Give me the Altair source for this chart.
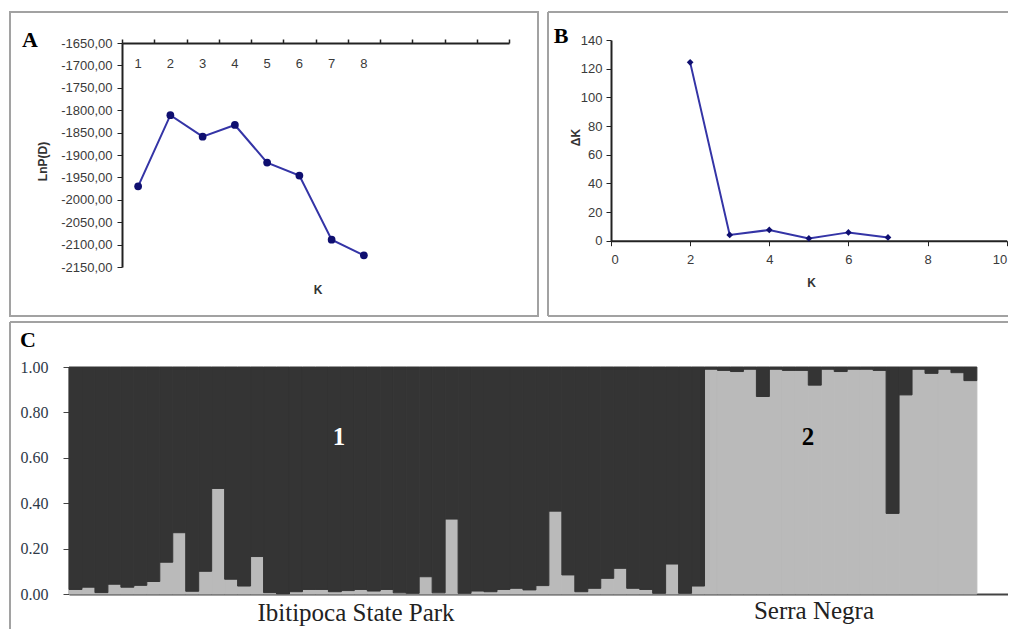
import altair as alt
import pandas as pd

# ---------------- data ----------------
# Panel A: mean LnP(D) for each K
k_a = [1, 2, 3, 4, 5, 6, 7, 8]
lnp_d = [-1970, -1811, -1859, -1833, -1917, -1946, -2089, -2124]
a_cat_bounds = [0.5, 1.5, 2.5, 3.5, 4.5, 5.5, 6.5, 7.5, 8.5, 9.5, 10.5, 11.5, 12.5]
a_y_ticks = [-2150, -2100, -2050, -2000, -1950, -1900, -1850, -1800, -1750, -1700, -1650]

# Panel B: Delta K for each K
k_b = [2, 3, 4, 5, 6, 7]
delta_k = [124.4, 4.0, 7.5, 1.6, 5.8, 2.3]
b_x_ticks = [0, 2, 4, 6, 8, 10]
b_y_ticks = [0, 20, 40, 60, 80, 100, 120, 140]

# Panel C: membership in cluster 2 (light grey) for each individual
q_cluster2 = [
    0.020, 0.030, 0.006, 0.043, 0.030, 0.038, 0.055, 0.140, 0.270, 0.012,
    0.100, 0.465, 0.065, 0.035, 0.165, 0.006, 0.000, 0.010, 0.020, 0.020,
    0.010, 0.015, 0.020, 0.013, 0.020, 0.005, 0.003, 0.076, 0.005, 0.330,
    0.003, 0.013, 0.010, 0.020, 0.025, 0.018, 0.037, 0.365, 0.084, 0.010,
    0.025, 0.069, 0.113, 0.025, 0.020, 0.003, 0.132, 0.003, 0.035,
    0.990, 0.985, 0.980, 0.990, 0.870, 0.990, 0.985, 0.985, 0.920, 0.990,
    0.980, 0.990, 0.990, 0.985, 0.355, 0.877, 0.990, 0.972, 0.990, 0.975,
    0.940,
]
c_y_ticks = [0.0, 0.2, 0.4, 0.6, 0.8, 1.0]
pop_names = ["Ibitipoca State Park", "Serra Negra"]
cluster_names = ["1", "2"]

# ---------------- styles ----------------
SANS = "Liberation Sans"
SERIF = "Liberation Serif"
LINE_COL = "#3434a6"
PT_COL = "#0f0f70"
BOX_COL = "#a2a2a2"
AX_COL = "#222222"
TXT_COL = "#3a3a3a"
DARK = "#343434"
LIGHT = "#bababa"
W, H = 1000, 621
one = pd.DataFrame({"d": [0]})


def box_rect(x, x2, y, y2):
    return alt.Chart(one).mark_rect(fillOpacity=0, stroke=BOX_COL, strokeWidth=2).encode(
        x=alt.value(x), x2=alt.value(x2), y=alt.value(y), y2=alt.value(y2))


def hrule(x, x2, y):
    return alt.Chart(one).mark_rule(color=BOX_COL, strokeWidth=2).encode(
        x=alt.value(x), x2=alt.value(x2), y=alt.value(y))


def vrule(x, y, y2):
    return alt.Chart(one).mark_rule(color=BOX_COL, strokeWidth=2).encode(
        x=alt.value(x), y=alt.value(y), y2=alt.value(y2))


def label(txt, x, y, size, font=SERIF, weight="bold", color="black"):
    return alt.Chart(one).mark_text(text=txt, font=font, fontSize=size, fontWeight=weight,
                                    color=color, baseline="middle", align="center").encode(
        x=alt.value(x), y=alt.value(y))


# ---------------- panel A ----------------
dfA = pd.DataFrame({"K": k_a, "LnP": lnp_d})
scAx = alt.Scale(domain=[0.5, 12.5], range=[114, 501], nice=False, zero=False)
scAy = alt.Scale(domain=[-2150, -1650], range=[259, 35], nice=False, zero=False)
xA = alt.X("K:Q", scale=scAx,
           axis=alt.Axis(orient="top", offset=-35, values=a_cat_bounds, labels=False, tickSize=4,
                         domainColor=AX_COL, tickColor=AX_COL, domainWidth=2,
                         tickWidth=1.5, grid=False, title=None))
yA = alt.Y("LnP:Q", scale=scAy,
           axis=alt.Axis(orient="left", offset=-114, values=a_y_ticks, labelOverlap=False,
                         tickCount=11,
                         labelExpr="'-' + format(abs(datum.value), 'd') + ',00'",
                         labelFont=SANS, labelFontSize=13, labelColor=TXT_COL,
                         labelPadding=5, tickSize=5, tickColor=AX_COL,
                         domainColor=AX_COL, domainWidth=2, grid=False,
                         title="LnP(D)", titleFont=SANS, titleFontSize=12,
                         titleFontWeight="bold", titleColor="#333333",
                         titleX=-80, titleY=153, titleBaseline="middle", titleAngle=-90))
lineA = alt.Chart(dfA).mark_line(color=LINE_COL, strokeWidth=2).encode(x=xA, y=yA)
ptsA = alt.Chart(dfA).mark_point(filled=True, color=PT_COL, size=60, opacity=1).encode(
    x=alt.X("K:Q", scale=scAx, axis=None), y=alt.Y("LnP:Q", scale=scAy, axis=None))
klabA = alt.Chart(dfA).mark_text(font=SANS, fontSize=13, color=TXT_COL, baseline="middle").encode(
    x=alt.X("K:Q", scale=scAx, axis=None), y=alt.value(56), text="K:N")

# ---------------- panel B ----------------
dfB = pd.DataFrame({"K": k_b, "dK": delta_k})
scBx = alt.Scale(domain=[0, 10], range=[603, 998.7], nice=False, zero=False)
scBy = alt.Scale(domain=[0, 140], range=[232.7, 32], nice=False, zero=False)
xB = alt.X("K:Q", scale=scBx,
           axis=alt.Axis(orient="bottom", offset=-(H - 232.7), values=b_x_ticks, labelOverlap=False,
                         tickCount=6, labelFont=SANS, labelFontSize=13, labelColor=TXT_COL,
                         labelPadding=8, tickSize=5, tickColor=AX_COL, domainColor=AX_COL,
                         domainWidth=2, grid=False, title="K", titleFont=SANS, titleFontSize=12,
                         titleFontWeight="bold", titleColor="#333333",
                         titleX=803, titleY=42, titleBaseline="middle"))
yB = alt.Y("dK:Q", scale=scBy,
           axis=alt.Axis(orient="left", offset=-603, values=b_y_ticks, labelOverlap=False,
                         tickCount=8, labelFont=SANS, labelFontSize=13, labelColor=TXT_COL,
                         labelPadding=4, tickSize=5, tickColor=AX_COL, domainColor=AX_COL,
                         domainWidth=2, grid=False, title="ΔK", titleFont=SANS, titleFontSize=12,
                         titleFontWeight="bold", titleColor="#333333",
                         titleX=-36, titleY=129, titleBaseline="middle", titleAngle=-90))
lineB = alt.Chart(dfB).mark_line(color=LINE_COL, strokeWidth=2).encode(x=xB, y=yB)
ptsB = alt.Chart(dfB).mark_point(filled=True, shape="diamond", color=PT_COL, size=45, opacity=1).encode(
    x=alt.X("K:Q", scale=scBx, axis=None), y=alt.Y("dK:Q", scale=scBy, axis=None))

# ---------------- panel C ----------------
n = len(q_cluster2)
dfC = pd.DataFrame({
    "start": list(range(n)),
    "end": [i + 1 for i in range(n)],
    "q2": q_cluster2,
    "zero": [0.0] * n,
    "one": [1.0] * n,
})
scCx = alt.Scale(domain=[0, 72.63], range=[61, 1003], nice=False, zero=False)
scCy = alt.Scale(domain=[0, 1], range=[586, 359], nice=False, zero=False)
xC = alt.X("start:Q", scale=scCx,
           axis=alt.Axis(orient="bottom", offset=-35, labels=False, ticks=False, grid=False,
                         title=None, domainColor="#444444", domainWidth=2))
yC = alt.Y("zero:Q", scale=scCy,
           axis=alt.Axis(orient="left", offset=-61, values=c_y_ticks, labelOverlap=False,
                         tickCount=6, format=".2f", labelFont=SERIF, labelFontSize=16,
                         labelColor="#2e3947", labelPadding=15, tickSize=6, tickColor="#444444",
                         domainColor="#444444", domainWidth=1.5, grid=False, title=None))
lightC = alt.Chart(dfC).mark_rect(color=LIGHT, stroke=LIGHT, strokeWidth=1).encode(
    x=xC, x2="end:Q", y=yC, y2="q2:Q")
darkC = alt.Chart(dfC).mark_rect(color=DARK, stroke=DARK, strokeWidth=1).encode(
    x=alt.X("start:Q", scale=scCx, axis=None), x2="end:Q",
    y=alt.Y("q2:Q", scale=scCy, axis=None), y2="one:Q")

chart = alt.layer(
    # panel frames
    box_rect(2, 530, 4, 308),
    hrule(540, W, 4), vrule(540, 4, 308), hrule(540, W, 308),
    hrule(2, W, 314), vrule(2, 314, H),
    # panel A
    lineA, ptsA, klabA,
    label("K", 310, 282, 12, font=SANS, color="#333333"),
    label("A", 22, 32, 22),
    # panel B
    lineB, ptsB,
    label("B", 553, 28, 22),
    # panel C
    lightC, darkC,
    label(cluster_names[0], 331, 429, 25, color="white"),
    label(cluster_names[1], 800, 429, 25, color="black"),
    label(pop_names[0], 348, 605, 25, weight="normal", color="#222222"),
    label(pop_names[1], 806, 603, 25, weight="normal", color="#222222"),
    label("C", 20, 332, 22),
).resolve_scale(
    x="independent", y="independent"
).resolve_axis(
    x="independent", y="independent"
).properties(
    width=W, height=H,
    autosize=alt.AutoSizeParams(type="none"),
    padding=0,
    background="white",
).configure_view(stroke=None)

chart.save("out.html", embed_options={"renderer": "svg", "actions": False})
